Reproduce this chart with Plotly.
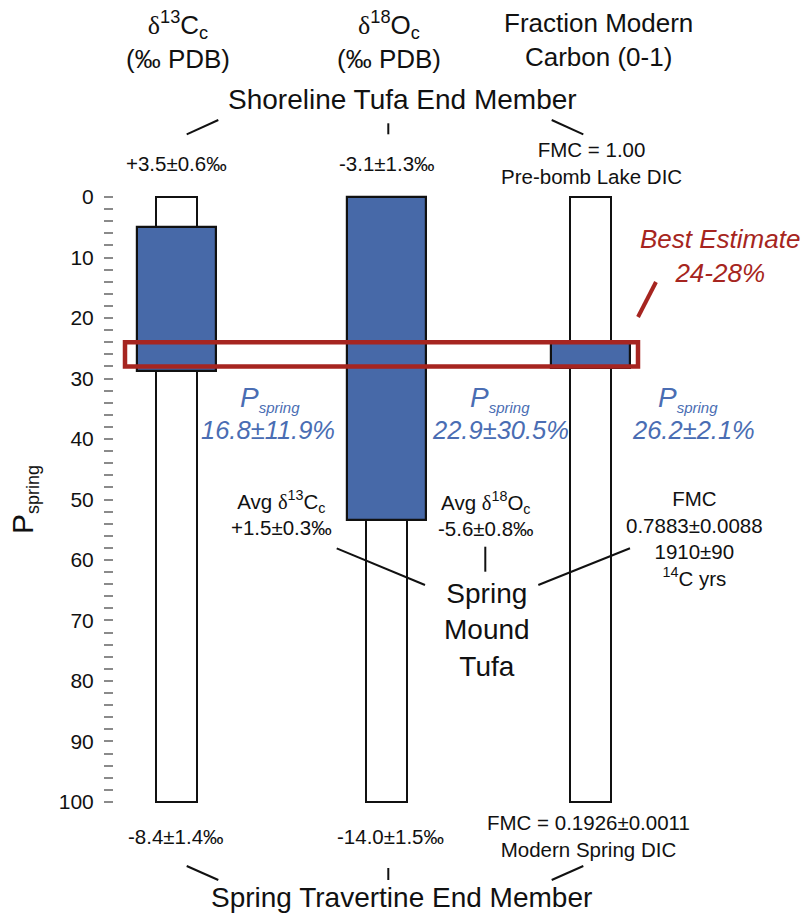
import plotly.graph_objects as go

# ---- data -------------------------------------------------------------
# horizontal position of each tracer column (x axis is laid out in pixels)
col_x = [176.5, 386.5, 590.5]

# full mixing range (0-100 % spring water) shown for every tracer
range_lo = [0, 0, 0]
range_hi = [100, 100, 100]

# P_spring estimate per tracer: mean and 1-sigma (%)
p_mean = [16.8, 22.9, 26.2]
p_err = [11.9, 30.5, 2.1]

# combined best estimate window (%)
best_lo, best_hi = 24, 28

DELTA = "<span style='font-family:Liberation Serif'>δ</span>"

# text
col_titles = [
    f"{DELTA}<sup>13</sup>C<sub>c</sub><br>(‰ PDB)",
    f"{DELTA}<sup>18</sup>O<sub>c</sub><br>(‰ PDB)",
    "Fraction Modern<br>Carbon (0-1)",
]
shoreline_vals = ["+3.5±0.6‰", "-3.1±1.3‰", "FMC = 1.00<br>Pre-bomb Lake DIC"]
travertine_vals = ["-8.4±1.4‰", "-14.0±1.5‰", "FMC = 0.1926±0.0011<br>Modern Spring DIC"]
mound_vals = [
    f"Avg {DELTA}<sup>13</sup>C<sub>c</sub><br>+1.5±0.3‰",
    f"Avg {DELTA}<sup>18</sup>O<sub>c</sub><br>-5.6±0.8‰",
    "FMC<br>0.7883±0.0088<br>1910±90<br><sup>14</sup>C yrs",
]
y_ticks = list(range(0, 101, 10))

# ---- styling ----------------------------------------------------------
W, H = 808, 915
L, R, T, B = 114, 0, 194, 110
BLUE = "#4769a8"
TXT_BLUE = "#4a6db3"
RED = "#a62520"
FONT = "Liberation Sans"

plot_w = W - L - R
plot_h = H - T - B


def px(x):
    return (x - L) / plot_w


def py(y):
    return (H - B - y) / plot_h


bar_lo = [max(0.0, m - e) for m, e in zip(p_mean, p_err)]
bar_hi = [min(100.0, m + e) for m, e in zip(p_mean, p_err)]

fig = go.Figure()

# narrow white bars: the full 0-100 % range
fig.add_trace(go.Bar(
    x=col_x, base=range_lo, y=[h - l for l, h in zip(range_lo, range_hi)],
    width=41, marker=dict(color="white", line=dict(color="#111", width=2)),
    hoverinfo="skip", showlegend=False,
))
# wide blue bars: P_spring mean ± 1 sigma
fig.add_trace(go.Bar(
    x=col_x, base=bar_lo, y=[h - l for l, h in zip(bar_lo, bar_hi)],
    width=79, marker=dict(color=BLUE, line=dict(color="#111", width=2.2)),
    hoverinfo="skip", showlegend=False,
))

shapes = []
# best estimate box across all columns
shapes.append(dict(type="rect", xref="x", yref="y", x0=125, x1=638,
                   y0=best_lo, y1=best_hi, line=dict(color=RED, width=4.5),
                   fillcolor="rgba(0,0,0,0)", layer="above"))


def seg(x0, y0, x1, y1, color="#111", width=2):
    shapes.append(dict(type="line", xref="paper", yref="paper",
                       x0=px(x0), y0=py(y0), x1=px(x1), y1=py(y1),
                       line=dict(color=color, width=width)))


# leader lines to the shoreline end member
seg(186.7, 134.3, 218.3, 120)
seg(388.3, 123.3, 388.3, 134.3)
seg(551.7, 120, 583.3, 134.3)
# leader lines to the travertine end member
seg(186.7, 866, 218.3, 880)
seg(388.3, 868, 388.3, 880)
seg(551.7, 880, 583.3, 866)
# leader lines to the spring mound tufa
seg(336.7, 548.3, 425, 585)
seg(485.3, 546.7, 485.3, 571.7)
seg(538.3, 585, 630, 548.3)
# best estimate pointer
seg(638, 317, 656, 282, color=RED, width=4)

ann = []


def text(x, y, s, size, color="#111", italic=False, align="center"):
    ann.append(dict(xref="paper", yref="paper", x=px(x), y=py(y), text=s,
                    showarrow=False, xanchor="center", yanchor="middle",
                    align=align,
                    font=dict(family=FONT, size=size, color=color,
                              style="italic" if italic else "normal")))


for cx, t in zip([178, 389, 598], col_titles):
    text(cx, 40, t, 26)

text(402, 99, "Shoreline Tufa End Member", 28)
text(401, 897, "Spring Travertine End Member", 28)

SMALL = 20.5
text(176, 163, shoreline_vals[0], SMALL)
text(387, 163, shoreline_vals[1], SMALL)
text(591, 163, shoreline_vals[2], SMALL)

text(176, 836, travertine_vals[0], SMALL)
text(390, 836, travertine_vals[1], SMALL)
text(588, 836, travertine_vals[2], SMALL)

text(281, 513, mound_vals[0], SMALL)
text(486, 514, mound_vals[1], SMALL)
text(694, 538, mound_vals[2], SMALL)

text(487, 630, "Spring<br>Mound<br>Tufa", 28)

P_SUB = "P<sub><span style='font-size:15px'>spring</span></sub>"
for pcx, ncx, m, e in zip([270, 500, 688], [268, 500, 693], p_mean, p_err):
    text(pcx, 399, P_SUB, 28, TXT_BLUE, italic=True)
    text(ncx, 430, f"{m}±{e}%", 25.5, TXT_BLUE, italic=True)

text(720, 256, "Best Estimate<br>24-28%", 26, RED, italic=True)

fig.update_layout(
    width=W, height=H,
    margin=dict(l=L, r=R, t=T, b=B, pad=0),
    paper_bgcolor="white", plot_bgcolor="white",
    barmode="overlay", bargap=0,
    shapes=shapes, annotations=ann,
    xaxis=dict(range=[L, W - R], visible=False, fixedrange=True),
    yaxis=dict(
        range=[100.5, -0.5], tickvals=y_ticks,
        ticks="outside", ticklen=9, tickwidth=2, tickcolor="#8a8a8a",
        showline=False, showgrid=False, zeroline=False,
        tickfont=dict(family=FONT, size=21, color="#111"),
        ticklabelstandoff=6,
        minor=dict(dtick=2, ticks="outside", ticklen=9, tickwidth=2,
                   tickcolor="#8a8a8a", showgrid=False),
        title=dict(text="P<sub><span style='font-size:18px'>spring</span></sub>",
                   standoff=16,
                   font=dict(family=FONT, size=30, color="#111")),
    ),
)

fig.write_html("out.html")
